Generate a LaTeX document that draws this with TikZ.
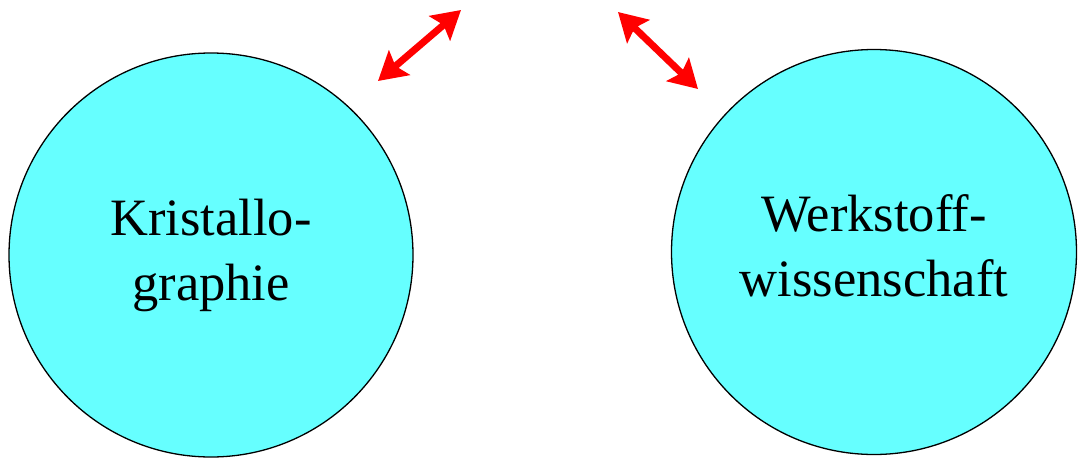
\documentclass[tikz,border=0pt]{standalone}
\usepackage{fontspec}
\setmainfont{Liberation Serif}
\usetikzlibrary{arrows.meta}
\definecolor{disc}{HTML}{66FFFF}
\begin{document}
\begin{tikzpicture}[x=1pt,y=-1pt,
  disk/.style={circle,draw=black,line width=1.3pt,fill=disc,inner sep=0pt,minimum size=#1},
  label/.style={align=center,font=\fontsize{52.5}{65}\selectfont,inner sep=0pt},
  link/.style={draw=red,line width=7pt,{Stealth[length=28pt,width=32pt,inset=5pt]}-{Stealth[length=28pt,width=32pt,inset=5pt]}}]
\useasboundingbox (0,0) rectangle (1079,461);
\node[disk=404pt] (k) at (211,255) {};
\node[disk=405pt] (w) at (874,252) {};
\node[label] (kt) at (211,255) {Kristallo-\\graphie};
\node[label] (wt) at (874,246) {Werkstoff-\\wissenschaft};
\coordinate (a1) at (378,81);
\coordinate (a2) at (461,10);
\coordinate (b1) at (618,12);
\coordinate (b2) at (698,89);
\draw[link] (a1) -- (a2);
\draw[link] (b1) -- (b2);
\end{tikzpicture}
\end{document}
